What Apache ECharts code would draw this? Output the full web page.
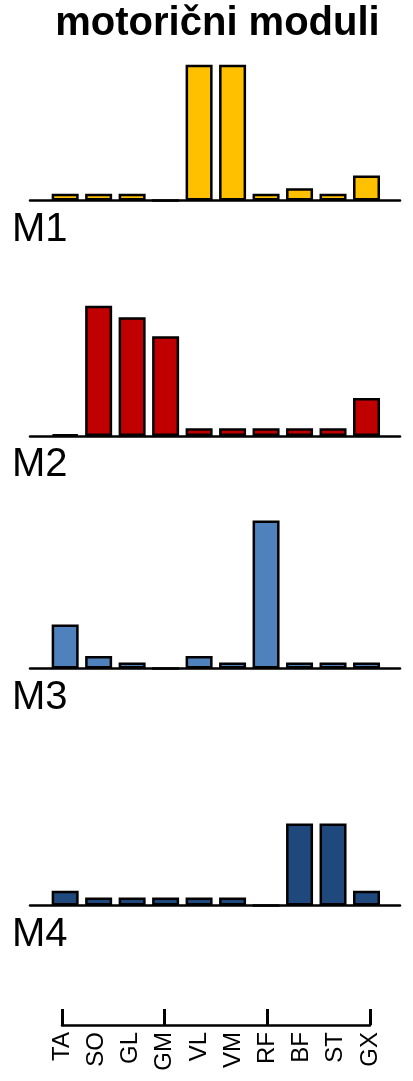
<!DOCTYPE html>
<html>
<head>
<meta charset="utf-8">
<script src="https://cdn.jsdelivr.net/npm/echarts@6/dist/echarts.min.js"></script>
<style>
  html, body { margin: 0; padding: 0; background: #ffffff; }
  #chart { width: 413px; height: 1081px; }
</style>
</head>
<body>
<div id="chart"></div>
<script>
// Muscles shown along every panel
const categories = ['TA', 'SO', 'GL', 'GM', 'VL', 'VM', 'RF', 'BF', 'ST', 'GX'];
const moduleNames = ['M1', 'M2', 'M3', 'M4'];

// Muscle weights of each motor module
const m1 = [0.045, 0.045, 0.045, 0.0, 0.905, 0.905, 0.045, 0.082, 0.045, 0.167];
const m2 = [0.010, 0.869, 0.791, 0.665, 0.051, 0.051, 0.051, 0.051, 0.051, 0.253];
const m3 = [0.293, 0.084, 0.040, 0.0, 0.084, 0.040, 0.987, 0.040, 0.040, 0.040];
const m4 = [0.098, 0.053, 0.053, 0.053, 0.053, 0.053, 0.0, 0.547, 0.547, 0.098];

const titleText = 'motorični moduli';

const moduleData = [m1, m2, m3, m4];
const moduleColors = ['#FFC000', '#C00000', '#4F81BD', '#1F497D'];

// Panel geometry (pixels)
const FONT = '"Liberation Sans", Arial, Helvetica, sans-serif';
const panelBaselines = [200.5, 436, 668.5, 905.5];
const panelHeight = 150;

const grids = [];
const xAxes = [];
const yAxes = [];
const series = [];
const graphics = [];

moduleData.forEach((values, i) => {
  grids.push({ left: 30, width: 370, top: panelBaselines[i] - panelHeight, height: panelHeight });
  xAxes.push({
    type: 'value', gridIndex: i, min: -1.05, max: 10,
    axisLine: { show: true, onZero: false, lineStyle: { color: '#000', width: 2.5 } },
    axisTick: { show: false }, axisLabel: { show: false }, splitLine: { show: false }
  });
  yAxes.push({ type: 'value', gridIndex: i, min: 0, max: 1, show: false });
  series.push({
    type: 'bar', name: moduleNames[i], xAxisIndex: i, yAxisIndex: i,
    barWidth: 27, silent: true,
    itemStyle: { color: moduleColors[i], borderColor: '#000', borderWidth: 2.5 },
    data: values.map((v, j) => [j, v])
  });
  graphics.push({
    type: 'text', left: 12, top: panelBaselines[i] + 9,
    style: { text: moduleNames[i], font: '40px ' + FONT, fill: '#000' }
  });
});

// Shared muscle axis at the bottom
grids.push({ left: 62, width: 308, top: 985, height: 40 });
xAxes.push({
  type: 'category', gridIndex: 4, data: categories, boundaryGap: false,
  axisLine: { show: true, lineStyle: { color: '#000', width: 2.5 } },
  axisTick: {
    show: true, inside: true, length: 16,
    interval: (idx) => idx % 3 === 0,
    lineStyle: { color: '#000', width: 3 }
  },
  axisLabel: { interval: 0, rotate: 90, margin: 7, fontSize: 24, color: '#000', fontFamily: FONT },
  splitLine: { show: false }
});
yAxes.push({ type: 'value', gridIndex: 4, show: false });

graphics.push({
  type: 'text', x: 217.5, y: 4,
  style: {
    text: titleText, font: 'bold 40px ' + FONT, fill: '#000',
    textAlign: 'center', align: 'center'
  }
});

const chart = echarts.init(document.getElementById('chart'), null, { renderer: 'canvas' });
chart.setOption({
  animation: false,
  backgroundColor: '#ffffff',
  grid: grids,
  xAxis: xAxes,
  yAxis: yAxes,
  series: series,
  graphic: graphics
});
</script>
</body>
</html>
